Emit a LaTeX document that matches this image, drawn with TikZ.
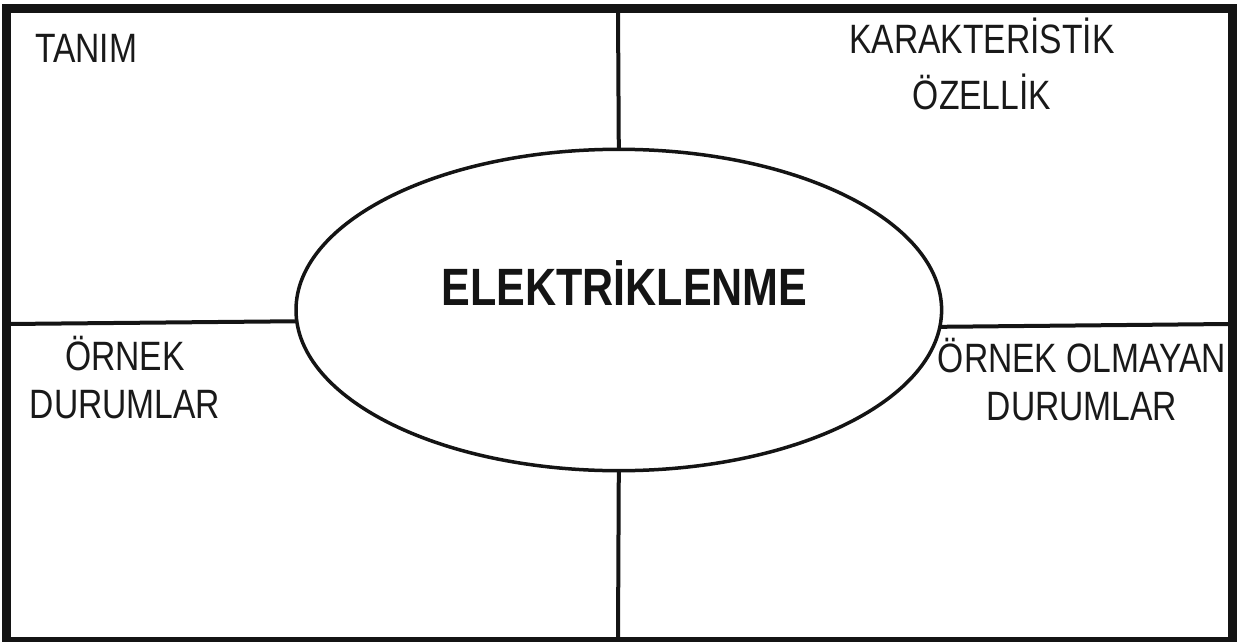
\documentclass[tikz,border=0pt]{standalone}
\usepackage{fontspec}
\setmainfont{Liberation Sans}[FakeStretch=0.82]
\usetikzlibrary{shapes.geometric}

\tikzset{
  frameline/.style={line width=9.5pt, draw=black!92},
  divider/.style={line width=4pt, draw=black!92},
  label/.style={inner sep=0pt, outer sep=0pt, text=black!90, align=center,
                font=\fontsize{41}{48}\selectfont},
  title/.style={inner sep=0pt, outer sep=0pt, text=black!92,
                font=\fontsize{52.5}{60}\selectfont\bfseries},
}

\begin{document}
\begin{tikzpicture}[x=1pt, y=-1pt]
  \useasboundingbox (0,0) rectangle (1237,642);

  % outer frame
  \draw[frameline] (6.5,8.5) rectangle (1232.5,641.5);

  % central concept
  \node[draw, ellipse, line width=3.5pt, draw=black!92, inner sep=0pt, outer sep=0pt,
        minimum width=645.6pt, minimum height=321.4pt] (E) at (618.8,310) {};
  \node[title, anchor=base] (T) at (624.5,305) {ELEKTRİKLENME};

  % ends of the dividing lines on the frame
  \coordinate (top) at (618,11);
  \coordinate (bottom) at (618,638);
  \coordinate (left) at (9,324);
  \coordinate (right) at (1229,324);

  \draw[divider] (top) -- (E.north);
  \draw[divider] (E.south) -- (bottom);
  \draw[divider] (left) -- (E.182.5);
  \draw[divider] (E.357.5) -- (right);

  % quadrant headings (base anchor sits on the last line)
  \node[label, anchor=base west] (tanim) at (35,63) {TANIM};
  \node[label, anchor=base, font=\fontsize{41}{55}\selectfont] (karakter) at (982,109)
        {KARAKTERİSTİK\\ÖZELLİK};
  \node[label, anchor=base] (ornek) at (125,418) {ÖRNEK\\DURUMLAR};
  \node[label, anchor=base] (olmayan) at (1082,420) {ÖRNEK OLMAYAN\\DURUMLAR};
\end{tikzpicture}
\end{document}
